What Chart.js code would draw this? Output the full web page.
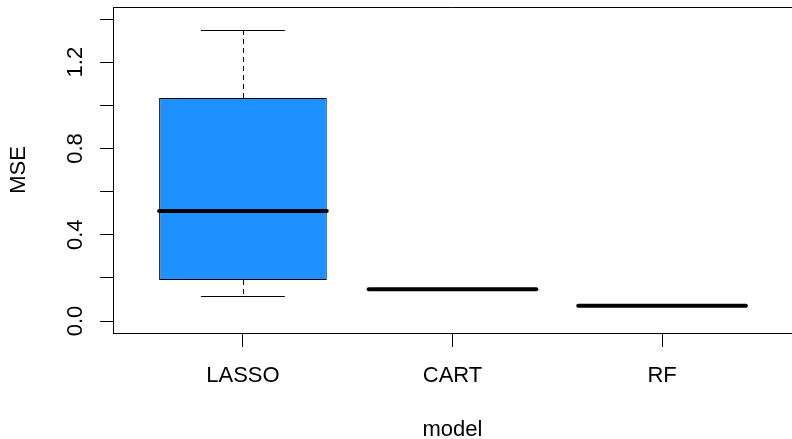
<!DOCTYPE html>
<html>
<head>
<meta charset="utf-8">
<script src="https://cdn.jsdelivr.net/npm/chart.js@4/dist/chart.umd.min.js"></script>
<style>
  body { margin: 0; background: #fff; }
  #wrap { width: 792px; height: 439px; }
</style>
</head>
<body>
<div id="wrap"><canvas id="mse-boxplot"></canvas></div>
<script>
// values
var categories = ['LASSO', 'CART', 'RF'];
var whiskerLow = [0.116, 0.143, 0.071];
var quartile1 = [0.19, 0.146, 0.071];
var medians = [0.51, 0.147, 0.071];
var quartile3 = [1.034, 0.148, 0.071];
var whiskerHigh = [1.35, 0.148, 0.071];

var xTicks = [1, 2, 3];
var yTicks = [0, 0.2, 0.4, 0.6, 0.8, 1.0, 1.2, 1.4];
var yTickLabels = ['0.0', '', '0.4', '', '0.8', '', '1.2', ''];

var fontFamily = "'Liberation Sans', Arial, sans-serif";

document.addEventListener('DOMContentLoaded', function() {
    renderBoxplot();
});

// whiskers, caps, medians and the frame, drawn R style
var rBoxPlugin = {
    id: 'rBox',
    afterDatasetsDraw: function(chart) {
        var ctx = chart.ctx;
        var x = chart.scales.x;
        var y = chart.scales.y;
        ctx.save();
        ctx.strokeStyle = '#000';
        for (let i = 0; i < categories.length; i++) {
            var xc = x.getPixelForValue(xTicks[i]);
            var capHalf = x.getPixelForValue(xTicks[i] + 0.2) - xc;
            var boxHalf = x.getPixelForValue(xTicks[i] + 0.4) - xc;
            var xw = Math.round(xc) + 0.5;

            // dashed whiskers
            ctx.lineWidth = 1;
            ctx.setLineDash([5, 4]);
            ctx.beginPath();
            ctx.moveTo(xw, y.getPixelForValue(quartile3[i]));
            ctx.lineTo(xw, y.getPixelForValue(whiskerHigh[i]));
            ctx.moveTo(xw, y.getPixelForValue(quartile1[i]));
            ctx.lineTo(xw, y.getPixelForValue(whiskerLow[i]));
            ctx.stroke();

            // caps
            ctx.setLineDash([]);
            ctx.beginPath();
            ctx.moveTo(xc - capHalf, Math.round(y.getPixelForValue(whiskerHigh[i])) + 0.5);
            ctx.lineTo(xc + capHalf, Math.round(y.getPixelForValue(whiskerHigh[i])) + 0.5);
            ctx.moveTo(xc - capHalf, Math.round(y.getPixelForValue(whiskerLow[i])) + 0.5);
            ctx.lineTo(xc + capHalf, Math.round(y.getPixelForValue(whiskerLow[i])) + 0.5);
            ctx.stroke();

            // median
            ctx.lineWidth = 4;
            ctx.lineCap = 'round';
            ctx.beginPath();
            ctx.moveTo(xc - boxHalf, y.getPixelForValue(medians[i]));
            ctx.lineTo(xc + boxHalf, y.getPixelForValue(medians[i]));
            ctx.stroke();
            ctx.lineCap = 'butt';
        }

        // top edge of the box round the plot
        var a = chart.chartArea;
        ctx.lineWidth = 1;
        ctx.beginPath();
        ctx.moveTo(a.left, a.top + 0.5);
        ctx.lineTo(a.right, a.top + 0.5);
        ctx.stroke();
        ctx.restore();
    }
};

function renderBoxplot() {
    var boxData = [];
    for (let i = 0; i < categories.length; i++) {
        boxData.push({ x: xTicks[i], y: [quartile1[i], quartile3[i]] });
    }

    var ctx = document.getElementById('mse-boxplot').getContext('2d');

    new Chart(ctx, {
        type: 'bar',
        data: {
            datasets: [{
                label: 'MSE',
                data: boxData,
                backgroundColor: '#1E90FF',
                borderColor: '#000',
                borderWidth: 1,
                borderSkipped: false,
                barPercentage: 0.8,
                categoryPercentage: 1.0
            }]
        },
        options: {
            responsive: true,
            maintainAspectRatio: false,
            animation: false,
            layout: { padding: { top: 7, right: 0, left: 0, bottom: 0 } },
            plugins: {
                legend: { display: false },
                tooltip: { enabled: false }
            },
            scales: {
                x: {
                    type: 'linear',
                    min: 0.38,
                    max: 3.62,
                    offset: false,
                    afterBuildTicks: function(scale) {
                        scale.ticks = xTicks.map(v => ({ value: v }));
                    },
                    afterFit: function(scale) {
                        scale.height = 106;
                        scale.paddingLeft = 0;
                        scale.paddingRight = 0;
                    },
                    grid: {
                        offset: false,
                        drawOnChartArea: false,
                        tickLength: 14,
                        tickColor: '#000',
                        tickWidth: 1
                    },
                    border: { display: true, color: '#000', width: 1 },
                    ticks: {
                        autoSkip: false,
                        maxRotation: 0,
                        padding: 16,
                        color: '#000',
                        font: { family: fontFamily, size: 22 },
                        callback: function(value, index) { return categories[index]; }
                    },
                    title: {
                        display: true,
                        text: 'model',
                        color: '#000',
                        font: { family: fontFamily, size: 22, lineHeight: 0.8 },
                        padding: { top: 0, bottom: 0 }
                    }
                },
                y: {
                    min: -0.0556,
                    max: 1.4557,
                    afterBuildTicks: function(scale) {
                        scale.ticks = yTicks.map(v => ({ value: v }));
                    },
                    afterFit: function(scale) {
                        scale.width = 113;
                        scale.paddingTop = 0;
                        scale.paddingBottom = 0;
                    },
                    grid: {
                        drawOnChartArea: false,
                        tickLength: 13,
                        tickColor: '#000',
                        tickWidth: 1
                    },
                    border: { display: true, color: '#000', width: 1 },
                    ticks: {
                        autoSkip: false,
                        minRotation: 90,
                        maxRotation: 90,
                        crossAlign: 'center',
                        padding: 9,
                        color: '#000',
                        font: { family: fontFamily, size: 22 },
                        callback: function(value, index) { return yTickLabels[index]; }
                    },
                    title: {
                        display: true,
                        text: 'MSE',
                        color: '#000',
                        font: { family: fontFamily, size: 22 },
                        padding: { top: 6, bottom: 0 }
                    }
                }
            }
        },
        plugins: [rBoxPlugin]
    });
}
</script>
</body>
</html>
